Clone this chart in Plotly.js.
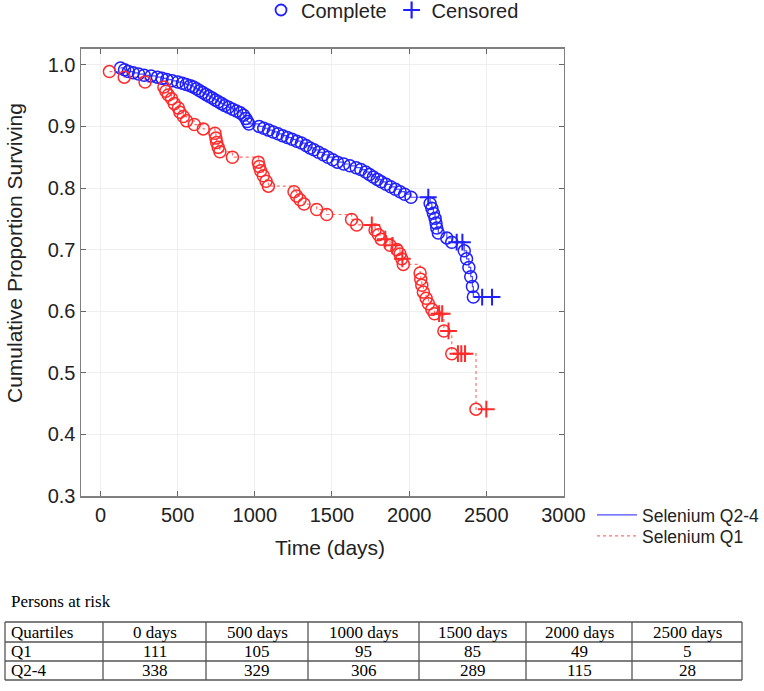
<!DOCTYPE html>
<html>
<head>
<meta charset="utf-8">
<script src="https://cdn.plot.ly/plotly-3.0.1.min.js"></script>
<style>
html,body{margin:0;padding:0;background:#ffffff;}
#chart{width:764px;height:691px;}
</style>
</head>
<body>
<div id="chart"></div>
<script>
// ---------- data ----------
// Selenium Q2-4 : complete (event) points
const blueEventTime = [130,156,181,212,247,283,328,369,399,430,465,501,531,556,582,602,622,643,663,683,703,724,744,764,785,805,830,856,881,906,927,942,952,962,1028,1058,1089,1119,1150,1180,1211,1241,1272,1302,1332,1358,1383,1413,1444,1474,1505,1535,1576,1616,1657,1687,1718,1743,1768,1794,1819,1850,1880,1911,1941,1971,2012,2136,2147,2157,2168,2174,2179,2189,2244,2276,2357,2372,2387,2399,2410,2416];
const blueEventSurv = [0.995,0.992,0.989,0.987,0.985,0.983,0.982,0.980,0.978,0.976,0.974,0.972,0.970,0.968,0.966,0.964,0.961,0.958,0.955,0.952,0.949,0.946,0.943,0.940,0.937,0.934,0.931,0.928,0.925,0.922,0.918,0.913,0.908,0.904,0.900,0.897,0.894,0.891,0.888,0.885,0.882,0.879,0.876,0.873,0.869,0.865,0.862,0.858,0.854,0.850,0.846,0.842,0.839,0.836,0.833,0.830,0.826,0.822,0.818,0.814,0.810,0.806,0.802,0.798,0.794,0.790,0.785,0.775,0.767,0.759,0.751,0.743,0.735,0.727,0.719,0.712,0.698,0.685,0.671,0.656,0.640,0.623];
// Selenium Q2-4 : censored points
const blueCensTime = [2124,2308,2345,2473,2537];
const blueCensSurv = [0.785,0.712,0.712,0.623,0.623];

// Selenium Q1 : complete (event) points
const redEventTime = [58,154,289,411,424,440,461,478,505,515,537,558,608,666,742,748,753,763,774,855,1023,1029,1038,1055,1073,1088,1254,1271,1293,1319,1401,1466,1627,1660,1779,1801,1819,1876,1921,1941,1952,1962,2071,2075,2082,2092,2110,2125,2147,2164,2225,2276,2433];
const redEventSurv = [0.989,0.980,0.972,0.964,0.957,0.951,0.945,0.937,0.930,0.923,0.916,0.909,0.903,0.896,0.889,0.881,0.874,0.866,0.859,0.850,0.842,0.835,0.828,0.820,0.811,0.803,0.794,0.787,0.781,0.774,0.765,0.757,0.749,0.740,0.732,0.724,0.717,0.707,0.700,0.693,0.685,0.676,0.662,0.652,0.642,0.631,0.621,0.612,0.603,0.596,0.568,0.531,0.441];
// Selenium Q1 : censored points
const redCensTime = [1758,1845,1891,1956,2194,2214,2255,2316,2338,2362,2500];
const redCensSurv = [0.740,0.717,0.707,0.685,0.596,0.596,0.568,0.531,0.531,0.531,0.441];

// axes and table
const xTickVals = [0,500,1000,1500,2000,2500,3000];
const yTickVals = [0.3,0.4,0.5,0.6,0.7,0.8,0.9,1.0];
const tableHeader = ['Quartiles','0 days','500 days','1000 days','1500 days','2000 days','2500 days'];
const tableRowQ1 = ['Q1','111','105','95','85','49','5'];
const tableRowQ24 = ['Q2-4','338','329','306','289','115','28'];

// ---------- layout helpers ----------
const W = 764, H = 691;
const px = x => x / W;          // pixel -> paper (margins are zero)
const py = y => 1 - y / H;

function stepLine(et, es, ct, cs) {
  const pts = [];
  et.forEach((t, i) => pts.push([t, es[i]]));
  ct.forEach((t, i) => pts.push([t, cs[i]]));
  pts.sort((a, b) => a[0] - b[0]);
  return { x: pts.map(p => p[0]), y: pts.map(p => p[1]) };
}

const BLUE = '#1f1fff';
const RED = '#ff2a2a';
const FONT = 'Liberation Sans, Arial, Helvetica, sans-serif';
const SERIF = 'Liberation Serif, Times New Roman, serif';
const TXT = '#222222';

const blueLine = stepLine(blueEventTime, blueEventSurv, blueCensTime, blueCensSurv);
const redLine = stepLine(redEventTime, redEventSurv, redCensTime, redCensSurv);

const traces = [
  { type: 'scatter', mode: 'lines', x: blueLine.x, y: blueLine.y, name: 'Selenium Q2-4',
    line: { color: '#4d4dff', width: 1.2, shape: 'hv' }, legend: 'legend2', hoverinfo: 'skip' },
  { type: 'scatter', mode: 'lines', x: redLine.x, y: redLine.y, name: 'Selenium Q1',
    line: { color: '#ff7070', width: 1.2, dash: 'dot', shape: 'hv' }, legend: 'legend3', hoverinfo: 'skip' },
  { type: 'scatter', mode: 'markers', x: blueEventTime, y: blueEventSurv, showlegend: false, hoverinfo: 'skip',
    marker: { symbol: 'circle-open', size: 12, color: BLUE, line: { width: 1.5, color: BLUE } } },
  { type: 'scatter', mode: 'markers', x: redEventTime, y: redEventSurv, showlegend: false, hoverinfo: 'skip',
    marker: { symbol: 'circle-open', size: 12, color: RED, line: { width: 1.5, color: RED } } },
  { type: 'scatter', mode: 'markers', x: blueCensTime, y: blueCensSurv, showlegend: false, hoverinfo: 'skip',
    marker: { symbol: 'cross-thin-open', size: 12, color: BLUE, line: { width: 2, color: BLUE } } },
  { type: 'scatter', mode: 'markers', x: redCensTime, y: redCensSurv, showlegend: false, hoverinfo: 'skip',
    marker: { symbol: 'cross-thin-open', size: 12, color: RED, line: { width: 2, color: RED } } },
  // top legend keys
  { type: 'scatter', mode: 'markers', x: [null], y: [null], name: 'Complete', legend: 'legend',
    marker: { symbol: 'circle-open', size: 11, color: BLUE, line: { width: 1.8, color: BLUE } } },
  { type: 'scatter', mode: 'markers', x: [null], y: [null], name: 'Censored', legend: 'legend',
    marker: { symbol: 'cross-thin-open', size: 12, color: BLUE, line: { width: 2.2, color: BLUE } } }
];

// ---------- persons-at-risk table (lines + text) ----------
const colLines = [5, 103, 206, 308, 419, 526, 632, 742];
const rowLines = [622, 642, 661, 680];
const shapes = [];
rowLines.forEach(y => shapes.push({ type: 'line', xref: 'paper', yref: 'paper',
  x0: px(colLines[0]), x1: px(colLines[colLines.length - 1]), y0: py(y), y1: py(y),
  line: { color: '#555555', width: 1.3 } }));
colLines.forEach(x => shapes.push({ type: 'line', xref: 'paper', yref: 'paper',
  x0: px(x), x1: px(x), y0: py(rowLines[0]), y1: py(rowLines[rowLines.length - 1]),
  line: { color: '#555555', width: 1.3 } }));

const annotations = [
  { text: 'Cumulative Proportion Surviving', xref: 'paper', yref: 'paper',
    x: px(14), y: py(253), textangle: -90, showarrow: false,
    xanchor: 'center', yanchor: 'middle', font: { family: FONT, size: 21, color: TXT } },
  { text: 'Time (days)', xref: 'paper', yref: 'paper',
    x: px(330), y: py(547), showarrow: false,
    xanchor: 'center', yanchor: 'middle', font: { family: FONT, size: 21, color: TXT } },
  { text: 'Persons at risk', xref: 'paper', yref: 'paper',
    x: px(9), y: py(601), showarrow: false,
    xanchor: 'left', yanchor: 'middle', font: { family: SERIF, size: 17, color: '#000000' } }
];
[tableHeader, tableRowQ1, tableRowQ24].forEach((row, r) => {
  const yc = (rowLines[r] + rowLines[r + 1]) / 2;
  row.forEach((val, c) => {
    const first = c === 0;
    annotations.push({ text: val, xref: 'paper', yref: 'paper', showarrow: false,
      x: first ? px(colLines[0] + 4) : px((colLines[c] + colLines[c + 1]) / 2),
      y: py(yc), xanchor: first ? 'left' : 'center', yanchor: 'middle',
      font: { family: SERIF, size: 17, color: '#000000' } });
  });
});

const axisCommon = {
  ticks: 'inside', ticklen: 5, tickcolor: '#666666',
  showgrid: true, gridcolor: '#efefef', gridwidth: 1, zeroline: false,
  showline: true, linecolor: '#808080', linewidth: 1.5, mirror: 'ticks',
  tickfont: { family: FONT, size: 20, color: TXT }, fixedrange: true
};

const layout = {
  width: W, height: H,
  margin: { l: 0, r: 0, t: 0, b: 0, autoexpand: false },
  paper_bgcolor: '#ffffff', plot_bgcolor: '#ffffff',
  font: { family: FONT, size: 20, color: TXT },
  xaxis: Object.assign({}, axisCommon, {
    domain: [px(81), px(563.5)], range: [-126, 3000],
    tickvals: xTickVals, ticktext: xTickVals.map(String)
  }),
  yaxis: Object.assign({}, axisCommon, {
    domain: [py(496), py(48.8)], range: [0.3, 1.026],
    tickvals: yTickVals, ticktext: yTickVals.map(v => v.toFixed(1))
  }),
  legend: {
    orientation: 'h', x: px(261), y: py(10), xanchor: 'left', yanchor: 'middle',
    bgcolor: 'rgba(0,0,0,0)', borderwidth: 0,
    font: { family: FONT, size: 20, color: TXT }
  },
  legend2: {
    orientation: 'v', x: px(592), y: py(515), xanchor: 'left', yanchor: 'middle',
    bgcolor: 'rgba(0,0,0,0)', borderwidth: 0, itemwidth: 40,
    font: { family: FONT, size: 17.5, color: TXT }
  },
  legend3: {
    orientation: 'v', x: px(592), y: py(536), xanchor: 'left', yanchor: 'middle',
    bgcolor: 'rgba(0,0,0,0)', borderwidth: 0, itemwidth: 40,
    font: { family: FONT, size: 17.5, color: TXT }
  },
  shapes: shapes,
  annotations: annotations,
  showlegend: true
};

Plotly.newPlot('chart', traces, layout, { displayModeBar: false, staticPlot: true });
</script>
</body>
</html>
